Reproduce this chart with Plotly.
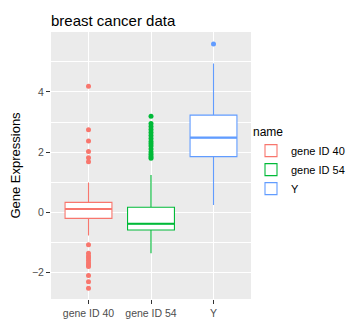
import plotly.graph_objects as go

GENES = ["gene ID 40", "gene ID 54", "Y"]
COLORS = ["#F8766D", "#00BA38", "#619CFF"]

Q1 = [-0.20, -0.59, 1.85]
MEDIAN = [0.11, -0.38, 2.48]
Q3 = [0.33, 0.17, 3.23]
LOWER = [-0.77, -1.36, 0.24]
UPPER = [0.99, 1.24, 4.94]

OUTLIERS = [
    [4.19, 2.74, 2.37, 2.02, 1.81, 1.68,
     -1.08, -1.36, -1.45, -1.52, -1.60, -1.68, -1.75, -1.80, -2.10, -2.31, -2.52],
    [3.19, 2.95, 2.85, 2.75, 2.65, 2.55, 2.45, 2.35, 2.28, 2.20, 2.10, 2.00,
     1.93, 1.85, 1.80],
    [5.59],
]

fig = go.Figure()

for i, name in enumerate(GENES):
    fig.add_trace(
        go.Box(
            x=[name],
            q1=[Q1[i]],
            median=[MEDIAN[i]],
            q3=[Q3[i]],
            lowerfence=[LOWER[i]],
            upperfence=[UPPER[i]],
            name=name,
            width=0.75,
            fillcolor="white",
            line=dict(color=COLORS[i], width=1.1),
            whiskerwidth=0,
            boxpoints=False,
        )
    )

for i, name in enumerate(GENES):
    fig.add_trace(
        go.Scatter(
            x=[name] * len(OUTLIERS[i]),
            y=OUTLIERS[i],
            mode="markers",
            marker=dict(color=COLORS[i], size=5),
            showlegend=False,
            hoverinfo="y",
        )
    )

# ggplot draws the median thicker than the box outline
for i, name in enumerate(GENES):
    fig.add_shape(
        type="line",
        xref="x",
        yref="y",
        x0=i - 0.375,
        x1=i + 0.375,
        y0=MEDIAN[i],
        y1=MEDIAN[i],
        line=dict(color=COLORS[i], width=2.2),
    )

fig.update_layout(
    width=354,
    height=327,
    margin=dict(l=43, r=108, t=24, b=36),
    paper_bgcolor="white",
    plot_bgcolor="#EBEBEB",
    font=dict(family="Liberation Sans, Arial, sans-serif", size=11, color="#4D4D4D"),
    title=dict(
        text="breast cancer data",
        x=43 / 354,
        xanchor="left",
        y=1 - 13 / 327,
        yanchor="middle",
        font=dict(size=15, color="black"),
    ),
    legend=dict(
        title=dict(text="name", font=dict(size=12, color="black")),
        xref="container",
        yref="container",
        x=243 / 354,
        xanchor="left",
        y=1 - 154 / 327,
        yanchor="middle",
        font=dict(size=11, color="black"),
        itemwidth=30,
        tracegroupgap=0,
        bgcolor="rgba(0,0,0,0)",
    ),
    xaxis=dict(
        type="category",
        range=[-0.6, 2.6],
        automargin=False,
        showgrid=True,
        gridcolor="white",
        gridwidth=1.1,
        ticks="outside",
        ticklen=4,
        tickcolor="#333333",
        tickfont=dict(size=10.5, color="#4D4D4D"),
        zeroline=False,
        showline=False,
    ),
    yaxis=dict(
        title=dict(text="Gene Expressions", font=dict(size=13, color="black"), standoff=10),
        automargin=False,
        range=[-2.88, 5.99],
        dtick=2,
        tick0=0,
        showgrid=True,
        gridcolor="white",
        gridwidth=1.1,
        minor=dict(dtick=1, tick0=1, showgrid=True, gridcolor="white", gridwidth=0.5),
        ticks="outside",
        ticklen=4,
        tickcolor="#333333",
        tickfont=dict(size=10.5, color="#4D4D4D"),
        zeroline=False,
        showline=False,
    ),
)

fig.write_html("out.html")
